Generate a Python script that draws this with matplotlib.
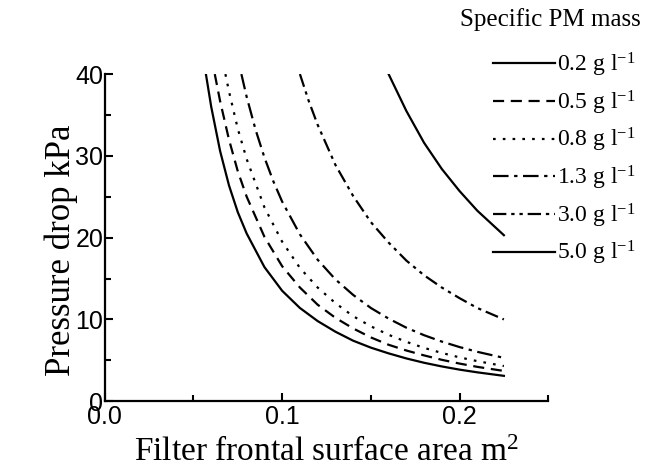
import matplotlib
matplotlib.use("Agg")
import matplotlib.pyplot as plt
from matplotlib.ticker import MultipleLocator

# curves: x = frontal area m^2, y = pressure drop kPa
x_02 = [0.057, 0.060, 0.065, 0.070, 0.075, 0.080, 0.090, 0.100, 0.110, 0.120, 0.130,
        0.140, 0.150, 0.160, 0.170, 0.180, 0.190, 0.200, 0.210, 0.225]
y_02 = [40.0, 36.0, 30.6, 26.4, 23.1, 20.5, 16.4, 13.5, 11.4, 9.8, 8.5,
        7.4, 6.55, 5.85, 5.23, 4.70, 4.25, 3.86, 3.53, 3.1]

x_05 = [0.062, 0.065, 0.070, 0.075, 0.080, 0.090, 0.100, 0.110, 0.120, 0.130,
        0.140, 0.150, 0.160, 0.170, 0.180, 0.190, 0.200, 0.210, 0.225]
y_05 = [40.0, 36.7, 32.0, 28.1, 25.0, 20.1, 16.5, 13.9, 11.8, 10.2,
        8.9, 7.8, 6.9, 6.2, 5.6, 5.06, 4.60, 4.20, 3.7]

x_08 = [0.068, 0.070, 0.075, 0.080, 0.090, 0.100, 0.110, 0.120, 0.130,
        0.140, 0.150, 0.160, 0.170, 0.180, 0.190, 0.200, 0.210, 0.225]
y_08 = [40.0, 37.9, 33.3, 29.6, 23.7, 19.5, 16.3, 13.9, 12.0,
        10.4, 9.16, 8.12, 7.26, 6.52, 5.90, 5.36, 4.90, 4.3]

x_13 = [0.077, 0.080, 0.085, 0.090, 0.095, 0.100, 0.110, 0.120, 0.130,
        0.140, 0.150, 0.160, 0.170, 0.180, 0.190, 0.200, 0.210, 0.225]
y_13 = [40.0, 37.2, 33.2, 29.8, 26.9, 24.4, 20.4, 17.3, 14.9,
        13.0, 11.4, 10.1, 8.99, 8.07, 7.29, 6.62, 6.04, 5.3]

x_30 = [0.110, 0.115, 0.120, 0.130, 0.140, 0.150, 0.160, 0.170, 0.180,
        0.190, 0.200, 0.210, 0.225]
y_30 = [40.0, 36.7, 33.8, 28.9, 25.1, 21.9, 19.4, 17.2, 15.4,
        13.9, 12.6, 11.4, 10.0]

x_50 = [0.160, 0.170, 0.180, 0.190, 0.200, 0.210, 0.225]
y_50 = [40.0, 35.5, 31.6, 28.4, 25.7, 23.3, 20.3]

labels = ["0.2 g l$^{-1}$", "0.5 g l$^{-1}$", "0.8 g l$^{-1}$",
          "1.3 g l$^{-1}$", "3.0 g l$^{-1}$", "5.0 g l$^{-1}$"]

styles = ["-", (0, (5, 3)), (0, (1.2, 3.2)), (0, (7, 2.5, 1.5, 2.5)),
          (0, (6, 2.2, 1.5, 2.2, 1.5, 2.2)), "-"]

serif = "Liberation Serif"
sans = "Liberation Sans"
plt.rcParams["mathtext.fontset"] = "custom"
plt.rcParams["mathtext.rm"] = serif
plt.rcParams["mathtext.it"] = serif + ":italic"

fig = plt.figure(figsize=(6.55, 4.72), dpi=100)
ax = fig.add_axes([0.160, 0.150, 0.677, 0.693])

series = [(x_02, y_02), (x_05, y_05), (x_08, y_08), (x_13, y_13), (x_30, y_30), (x_50, y_50)]
lines = []
for (xs, ys), ls, lab in zip(series, styles, labels):
    ln, = ax.plot(xs, ys, color="black", linestyle=ls, linewidth=1.6, label=lab)
    lines.append(ln)

ax.set_xlim(0, 0.25)
ax.set_ylim(0, 40)
ax.xaxis.set_major_locator(MultipleLocator(0.1))
ax.xaxis.set_minor_locator(MultipleLocator(0.05))
ax.yaxis.set_major_locator(MultipleLocator(10))
ax.yaxis.set_minor_locator(MultipleLocator(5))
ax.set_xticks([0.0, 0.1, 0.2])
ax.set_xticklabels(["0.0", "0.1", "0.2"])

for s in ["top", "right"]:
    ax.spines[s].set_visible(False)
for s in ["left", "bottom"]:
    ax.spines[s].set_linewidth(1.6)

ax.tick_params(which="major", direction="in", length=6, width=1.5, labelsize=18)
ax.tick_params(axis="y", pad=1)
ax.tick_params(axis="x", pad=3)
ax.tick_params(which="minor", direction="in", length=4, width=1.5)
for t in ax.get_xticklabels() + ax.get_yticklabels():
    t.set_family(sans)

ax.set_xlabel("Filter frontal surface area m$^2$", fontsize=24, family=serif)
ax.set_ylabel("Pressure drop kPa", fontsize=25, family=serif)
ax.xaxis.set_label_coords(0.5, -0.11)
ax.yaxis.set_label_coords(-0.06, 0.46)

fig.text(0.978, 0.958, "Specific PM mass", ha="right", va="center", fontsize=18, family=serif)
leg = fig.legend(handles=lines, loc="upper right", bbox_to_anchor=(0.985, 0.912),
                 frameon=False, handlelength=2.6, handletextpad=0.1,
                 labelspacing=0.40, borderaxespad=0,
                 prop={"family": serif, "size": 17})

fig.savefig("out.png", dpi=100)
plt.close(fig)
